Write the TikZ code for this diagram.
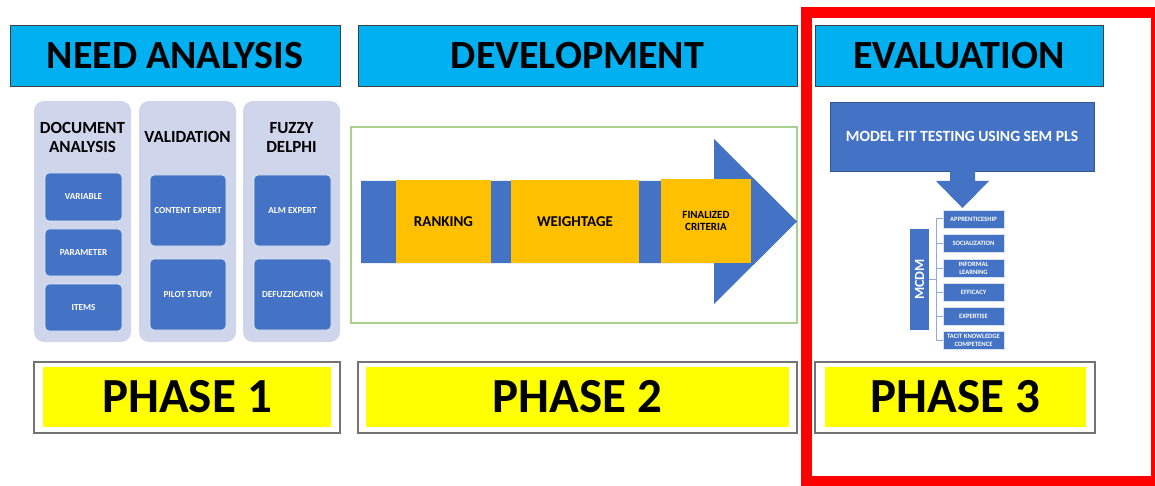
\documentclass[tikz,border=0pt]{standalone}
\usepackage{fontspec}
\setmainfont{Carlito}
\usepackage{xcolor}
\usetikzlibrary{positioning,calc}
\definecolor{headblue}{HTML}{00B0F0}
\definecolor{boxblue}{HTML}{4472C4}
\definecolor{cardblue}{HTML}{CFD5EA}
\definecolor{rankgold}{HTML}{FFC000}
\definecolor{phaseyellow}{HTML}{FFFF00}
\definecolor{framegreen}{HTML}{A9D18E}
\definecolor{linkblue}{HTML}{8FAADC}
\tikzset{
  header/.style={draw=black!75,fill=headblue,inner sep=0pt,minimum height=30.5pt,
    font=\bfseries\fontsize{20}{21}\selectfont},
  phaseout/.style={draw=black!55,line width=0.8pt,fill=white,inner sep=0pt,minimum height=35.5pt},
  phasein/.style={fill=phaseyellow,inner sep=0pt,minimum height=30pt,
    font=\bfseries\fontsize{24.5}{26}\selectfont},
  card/.style={fill=cardblue,rounded corners=5pt,inner sep=0pt,minimum width=48.5pt,minimum height=120.5pt},
  cardtitle/.style={align=center,font=\bfseries\fontsize{8.5}{9.5}\selectfont},
  tile/.style={draw=white!85!boxblue,fill=boxblue,rounded corners=2pt,inner sep=0pt,text=white,
    align=center,font=\bfseries\fontsize{4.6}{5}\selectfont},
  goldbox/.style={fill=rankgold,inner sep=0pt,align=center,minimum height=41.5pt},
  item/.style={draw=white!80!boxblue,fill=boxblue,inner sep=0pt,text=white,align=center,
    minimum width=30.5pt,minimum height=9pt,font=\bfseries\fontsize{3.3}{3.9}\selectfont},
  link/.style={draw=linkblue,line width=0.5pt}
}

\begin{document}
\begin{tikzpicture}[x=0.5pt,y=-0.5pt]
  \useasboundingbox (0,0) rectangle (1155,486);
  \node[header,minimum width=165pt] (needhead) at (175,55.5) {NEED ANALYSIS};
  \node[header,minimum width=219.5pt] (devhead) at (577.5,55.5) {DEVELOPMENT};
  \node[header,minimum width=144pt] (evalhead) at (959,55.5) {EVALUATION};

  \node[card] (doccard) at (82.5,221.5) {};
  \node[card] (valcard) at (187.5,221.5) {};
  \node[card] (fuzcard) at (291.5,221.5) {};
  \node[cardtitle] (doctitle) at (82.5,137) {DOCUMENT\\ANALYSIS};
  \node[cardtitle] (valtitle) at (187.5,137) {VALIDATION};
  \node[cardtitle] (fuztitle) at (291.5,137) {FUZZY\\DELPHI};
  \node[tile,minimum width=38.5pt,minimum height=24pt] (variable) at (83.5,197) {VARIABLE};
  \node[tile,minimum width=38.5pt,minimum height=23.5pt] (parameter) at (83.5,252.5) {PARAMETER};
  \node[tile,minimum width=38.5pt,minimum height=23.5pt] (items) at (83.5,307.5) {ITEMS};
  \node[tile,minimum width=38pt,minimum height=35.5pt] (content) at (188,210.5) {CONTENT EXPERT};
  \node[tile,minimum width=38pt,minimum height=35.5pt] (pilot) at (188,294.5) {PILOT STUDY};
  \node[tile,minimum width=38.5pt,minimum height=35.5pt] (alm) at (292.5,210.5) {ALM EXPERT};
  \node[tile,minimum width=38.5pt,minimum height=35.5pt] (defuzz) at (292.5,294.5) {DEFUZZICATION};

  \node[draw=framegreen,line width=0.6pt,inner sep=0pt,minimum width=223pt,minimum height=98pt] (devframe) at (574,225) {};
  \fill[boxblue] (361,181) -- (714,181) -- (714,139) -- (797,221.5) -- (714,304) -- (714,263) -- (361,263) -- cycle;
  \node[goldbox,minimum width=47.5pt,font=\bfseries\fontsize{7.5}{8}\selectfont] (ranking) at (443.5,221.5) {RANKING};
  \node[goldbox,minimum width=64pt,font=\bfseries\fontsize{7.5}{8}\selectfont] (weightage) at (575,221.5) {WEIGHTAGE};
  \node[goldbox,minimum width=45pt,font=\bfseries\fontsize{5.5}{6.3}\selectfont] (final) at (706,221) {FINALIZED\\CRITERIA};

  \node[draw=boxblue!75!black,line width=0.4pt,fill=boxblue,inner sep=0pt,minimum width=132pt,minimum height=34.5pt,
    text=white,font=\bfseries\fontsize{7.8}{8.5}\selectfont] (model) at (962,136.5) {MODEL FIT TESTING USING SEM PLS};
  \fill[boxblue] (950,171) -- (975,171) -- (975,181) -- (989,181) -- (962.5,208) -- (936,181) -- (950,181) -- cycle;
  \node[fill=boxblue,inner sep=0pt,minimum width=50.5pt,minimum height=9.5pt,rotate=90,text=white,
    font=\bfseries\fontsize{7}{8}\selectfont] (mcdm) at (919.5,279.5) {MCDM};
  \node[item] (appr) at (973.5,219) {APPRENTICESHIP};
  \node[item] (social) at (973.5,243) {SOCIALIZATION};
  \node[item] (informal) at (973.5,268) {INFORMAL\\LEARNING};
  \node[item] (efficacy) at (973.5,292) {EFFICACY};
  \node[item] (expertise) at (973.5,316) {EXPERTISE};
  \node[item] (tacit) at (973.5,340.5) {TACIT KNOWLEDGE\\COMPETENCE};
  \foreach \it in {appr,social,informal,efficacy,expertise,tacit}
    \draw[link] (mcdm.south) -- ++(7,0) |- (\it.west);

  \node[phaseout,minimum width=153pt] (p1box) at (187,397.5) {};
  \node[phaseout,minimum width=219.5pt] (p2box) at (577.5,397.5) {};
  \node[phaseout,minimum width=140pt] (p3box) at (955,397.5) {};
  \node[phasein,minimum width=144pt] (phase1) at (187,397) {PHASE 1};
  \node[phasein,minimum width=211.5pt] (phase2) at (577.5,397) {PHASE 2};
  \node[phasein,minimum width=130.5pt] (phase3) at (955.5,397) {PHASE 3};

  \draw[red,line width=5.5pt] (806,12.5) rectangle (1156,481.5);
\end{tikzpicture}
\end{document}
